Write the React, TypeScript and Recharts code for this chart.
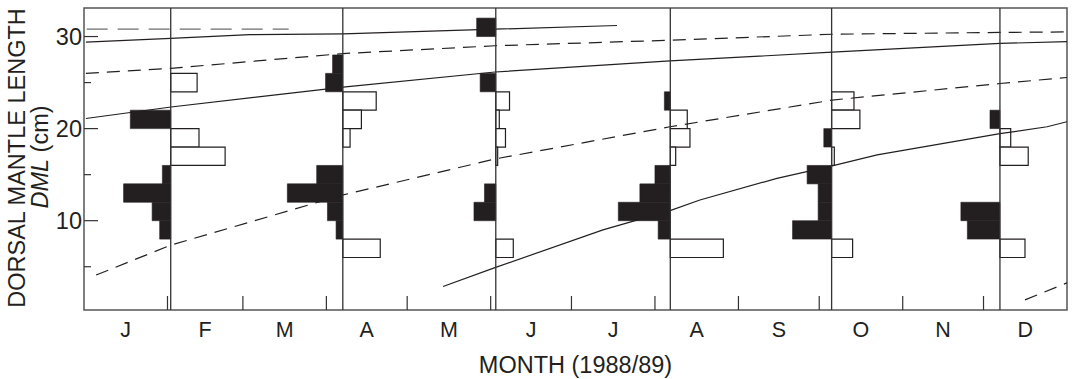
import { ComposedChart, Line, XAxis, YAxis, ReferenceArea, ReferenceLine, Label } from "recharts"

const FONT = "'Liberation Sans', Arial, Helvetica, sans-serif"
const INK = "#231f20"

// x axis is day of year (1988/89 season), y axis is DML in cm
const monthStarts = [31, 59, 90, 120, 151, 181, 212, 243, 273, 304, 334]
const monthMids = [15.5, 45, 74.5, 105, 135.5, 166, 196.5, 227.5, 258, 288.5, 319, 349.5]
const monthLabels = ["J", "F", "M", "A", "M", "J", "J", "A", "S", "O", "N", "D"]
const yTicks = [5, 10, 15, 20, 25, 30]

// sampling dates (day of year)
const sampleDays = [32.2, 96.1, 152.9, 217.7, 277.6, 340.1]
const BIN = 2

// [bin lower bound (cm), bar length (days)] -- black bars go left of the sample line
const blackBins = [
  [[20, 15.0], [14, 3.1], [12, 17.5], [10, 6.9], [8, 4.1]],
  [[26, 3.8], [24, 6.4], [14, 9.7], [12, 20.6], [10, 5.7], [8, 2.5]],
  [[30, 7.1], [24, 5.8], [12, 4.2], [10, 8.1]],
  [[22, 2.2], [14, 5.7], [12, 11.3], [10, 19.3], [8, 4.5]],
  [[18, 2.9], [14, 9.1], [12, 5.0], [10, 5.0], [8, 14.5]],
  [[20, 3.7], [10, 14.5], [8, 12.1]],
]

// white bars go right of the sample line
const whiteBins = [
  [[24, 9.8], [18, 10.5], [16, 20.2]],
  [[22, 12.4], [20, 6.9], [18, 2.7], [6, 13.9]],
  [[22, 5.1], [20, 1.3], [18, 3.6], [16, 0.7], [6, 6.5]],
  [[20, 6.3], [18, 7.3], [16, 2.0], [6, 19.7]],
  [[22, 8.3], [20, 10.5], [16, 1.0], [6, 7.8]],
  [[18, 4.0], [16, 10.5], [6, 9.3]],
]

// growth curves [day, DML]
const cohortA = [[1, 30.8], [76, 30.8]]
const cohortB = [[0.7, 29.4], [32.2, 29.8], [61.6, 30.2], [96.2, 30.3], [152.6, 30.8], [197.9, 31.2]]
const cohortC = [[0.7, 26.0], [32.3, 26.55], [96.2, 28.15], [152.6, 29.0], [217.6, 29.6], [277.8, 30.25], [340.1, 30.45], [365, 30.5]]
const cohortD = [[0.7, 21.1], [32.3, 22.35], [96.2, 24.5], [152.6, 26.15], [217.6, 27.35], [277.8, 28.3], [340.1, 29.25], [365, 29.45]]
const cohortE = [[4.5, 4.1], [32.3, 7.35], [96.2, 12.8], [152.6, 16.7], [217.6, 20.2], [277.8, 23.1], [340.1, 24.9], [365, 25.55]]
const cohortF = [[133.3, 2.85], [152.6, 4.9], [192.7, 9.0], [217.6, 11.1], [228.7, 12.25], [257.3, 14.6], [277.8, 15.95], [294.5, 17.15], [340.1, 19.45], [357.6, 20.2], [365, 20.75]]
const cohortG = [[349.4, 1.4], [365, 3.25]]

const toPts = (arr: number[][]) => arr.map(([x, y]) => ({ x, y }))

const curves = [
  { pts: cohortA, dash: "21 10", color: "#6d6d6d" },
  { pts: cohortB, dash: undefined, color: INK },
  { pts: cohortC, dash: "13 8", color: INK },
  { pts: cohortD, dash: undefined, color: INK },
  { pts: cohortE, dash: "13 8", color: INK },
  { pts: cohortF, dash: undefined, color: INK },
  { pts: cohortG, dash: "13 8", color: INK },
]

const XTick = (props: any) => {
  const { x, y, payload } = props
  const i = monthMids.indexOf(payload.value)
  if (i < 0) {
    return <line x1={x} x2={x} y1={y} y2={y - 14} stroke="#333" strokeWidth={1.2} />
  }
  return (
    <text x={x} y={y + 27} textAnchor="middle" fontFamily={FONT} fontSize={21.5} fill={INK}>
      {monthLabels[i]}
    </text>
  )
}

const YTick = (props: any) => {
  const { x, y, payload } = props
  const major = payload.value % 10 === 0
  return (
    <g>
      <line x1={x} x2={x + (major ? 14 : 7)} y1={y} y2={y} stroke="#333" strokeWidth={1.2} />
      {major && (
        <text x={x - 2} y={y} dy="0.36em" textAnchor="end" fontFamily={FONT} fontSize={23.5} fill={INK}>
          {payload.value}
        </text>
      )}
    </g>
  )
}

const YTitle = () => (
  <g fontFamily={FONT} fontSize={23.5} fill={INK}>
    <text transform="translate(25,158) rotate(-90)" textAnchor="middle">DORSAL MANTLE LENGTH</text>
    <text transform="translate(48,157) rotate(-90)" textAnchor="middle">
      <tspan fontStyle="italic">DML</tspan> (cm)
    </text>
  </g>
)

const XTitle = () => (
  <text x={575.5} y={373} textAnchor="middle" fontFamily={FONT} fontSize={23.5} fill={INK}>
    MONTH (1988/89)
  </text>
)

export default function App() {
  return (
    <div style={{ position: "absolute", left: 0, top: 0, width: 1073, height: 379, background: "#fff" }}>
      <ComposedChart width={1073} height={379} margin={{ top: 8, right: 6, bottom: 0, left: 0 }}>
        <XAxis
          type="number"
          dataKey="x"
          domain={[0, 365]}
          allowDataOverflow
          ticks={[...monthStarts, ...monthMids]}
          interval={0}
          tickSize={0}
          tickMargin={0}
          tick={XTick}
          axisLine={false}
          height={69}
        >
          <Label content={XTitle} />
        </XAxis>
        <YAxis
          type="number"
          domain={[0.3, 33.1]}
          allowDataOverflow
          ticks={yTicks}
          interval={0}
          tickSize={0}
          tickMargin={0}
          tick={YTick}
          axisLine={false}
          width={84}
        >
          <Label content={YTitle} />
        </YAxis>

        {sampleDays.map((d, s) =>
          whiteBins[s].map(([lo, len]) => (
            <ReferenceArea
              key={`w${s}-${lo}`}
              x1={d}
              x2={d + len}
              y1={lo}
              y2={lo + BIN}
              fill="#fff"
              fillOpacity={1}
              stroke={INK}
              strokeWidth={1.2}
            />
          ))
        )}

        {curves.map((c, i) => (
          <Line
            key={i}
            data={toPts(c.pts)}
            dataKey="y"
            type="linear"
            dot={false}
            stroke={c.color}
            strokeWidth={1.2}
            strokeDasharray={c.dash}
            isAnimationActive={false}
          />
        ))}

        {sampleDays.map((d, s) =>
          blackBins[s].map(([lo, len]) => (
            <ReferenceArea
              key={`b${s}-${lo}`}
              x1={d - len}
              x2={d}
              y1={lo}
              y2={lo + BIN}
              fill={INK}
              fillOpacity={1}
              stroke={INK}
              strokeWidth={0.6}
            />
          ))
        )}

        {sampleDays.map((d) => (
          <ReferenceLine key={d} x={d} stroke="#333" strokeWidth={1.3} />
        ))}

        <ReferenceArea x1={0} x2={365} y1={0.3} y2={33.1} fill="none" stroke="#555" strokeWidth={1.5} />
      </ComposedChart>
    </div>
  )
}
